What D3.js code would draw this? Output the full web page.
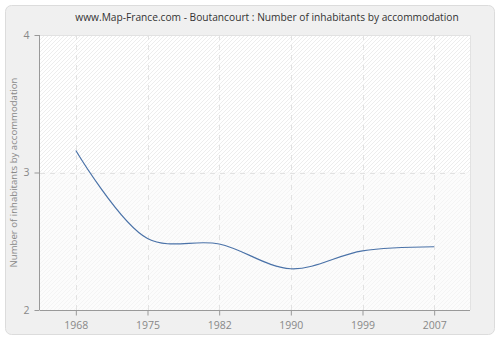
<!DOCTYPE html>
<html>
<head>
<meta charset="utf-8">
<script src="https://cdn.jsdelivr.net/npm/d3@7"></script>
<style>
  body { margin: 0; background: #fff; }
  text { font-family: "Open Sans", sans-serif; }
</style>
</head>
<body>
<svg width="500" height="340"></svg>
<script>
var years = ["1968", "1975", "1982", "1990", "1999", "2007"];
var values = [3.16, 2.52, 2.48, 2.30, 2.43, 2.46];
var yTicks = [2, 3, 4];

var svg = d3.select("svg"),
    width = +svg.attr("width"),
    height = +svg.attr("height");

var margin = {top: 35, right: 30, bottom: 30, left: 40};
var x0 = margin.left, x1 = width - margin.right,
    y0 = margin.top, y1 = height - margin.bottom;

// outer panel
svg.append("rect")
    .attr("x", 5.5).attr("y", 5.5)
    .attr("width", width - 11).attr("height", height - 11)
    .attr("rx", 6)
    .attr("fill", "#f0f0f0")
    .attr("stroke", "#dcdcdc");

var defs = svg.append("defs");
function hatch(id, bg, line) {
    var p = defs.append("pattern")
        .attr("id", id)
        .attr("patternUnits", "userSpaceOnUse")
        .attr("width", 4).attr("height", 4);
    p.append("rect").attr("width", 4).attr("height", 4).attr("fill", bg);
    p.append("path").attr("d", "M-1,1 l2,-2 M0,4 l4,-4 M3,5 l2,-2")
        .attr("stroke", line).attr("stroke-width", 0.8);
}
hatch("hatchTop", "#ffffff", "#e8e8e8");
hatch("hatchBot", "#fcfcfc", "#f2f2f2");

var x = d3.scalePoint().domain(years).range([x0, x1]).padding(0.5);
var y = d3.scaleLinear().domain([2, 4]).range([y1, y0]);

// plot background bands
svg.append("rect")
    .attr("x", x0).attr("y", y(4))
    .attr("width", x1 - x0).attr("height", y(3) - y(4))
    .attr("fill", "url(#hatchTop)");
svg.append("rect")
    .attr("x", x0).attr("y", y(3))
    .attr("width", x1 - x0).attr("height", y(2) - y(3))
    .attr("fill", "url(#hatchBot)");

// plot frame top/right
svg.append("path")
    .attr("d", "M" + x0 + "," + (y0 + 0.5) + "H" + (x1 + 0.5) + "V" + y1)
    .attr("fill", "none").attr("stroke", "#e2e2e2");

// grid
svg.selectAll(".vgrid").data(years).enter().append("line")
    .attr("class", "vgrid")
    .attr("x1", function(d) { return Math.round(x(d)) + 0.5; })
    .attr("x2", function(d) { return Math.round(x(d)) + 0.5; })
    .attr("y1", y0).attr("y2", y1)
    .attr("stroke", "#e2e2e2").attr("stroke-dasharray", "5,5");
svg.selectAll(".hgrid").data([3]).enter().append("line")
    .attr("class", "hgrid")
    .attr("x1", x0).attr("x2", x1)
    .attr("y1", function(d) { return Math.round(y(d)) + 0.5; })
    .attr("y2", function(d) { return Math.round(y(d)) + 0.5; })
    .attr("stroke", "#e2e2e2").attr("stroke-dasharray", "5,5");

// line
var line = d3.line()
    .x(function(d, i) { return x(years[i]); })
    .y(function(d) { return y(d); })
    .curve(d3.curveCatmullRom.alpha(0.5));
svg.append("path")
    .datum(values)
    .attr("d", line)
    .attr("fill", "none")
    .attr("stroke", "#4a72a8")
    .attr("stroke-width", 1.2);

// axes
var xAxis = svg.append("g")
    .attr("transform", "translate(0," + (y1 + 0.5) + ")")
    .call(d3.axisBottom(x).tickSize(5).tickPadding(6));
xAxis.select(".domain").attr("d", "M" + x0 + ",0H" + x1);

var yAxis = svg.append("g")
    .attr("transform", "translate(" + (x0 - 0.5) + ",0)")
    .call(d3.axisLeft(y).tickValues(yTicks).tickFormat(d3.format("d")).tickSize(5).tickPadding(5));
yAxis.select(".domain").attr("d", "M0," + y0 + "V" + y1);

svg.selectAll(".domain, .tick line").attr("stroke", "#999");
svg.selectAll(".tick text")
    .attr("fill", "#888")
    .style("font-size", "10.5px")
    .style("font-family", "Open Sans, sans-serif");

// title
svg.append("text")
    .attr("x", 267).attr("y", 21)
    .attr("text-anchor", "middle")
    .attr("fill", "#333")
    .style("font-size", "10.2px")
    .text("www.Map-France.com - Boutancourt : Number of inhabitants by accommodation");

// y label
svg.append("text")
    .attr("transform", "translate(17," + ((y0 + y1) / 2) + ") rotate(-90)")
    .attr("text-anchor", "middle")
    .attr("fill", "#888")
    .style("font-size", "9.6px")
    .text("Number of inhabitants by accommodation");
</script>
</body>
</html>
